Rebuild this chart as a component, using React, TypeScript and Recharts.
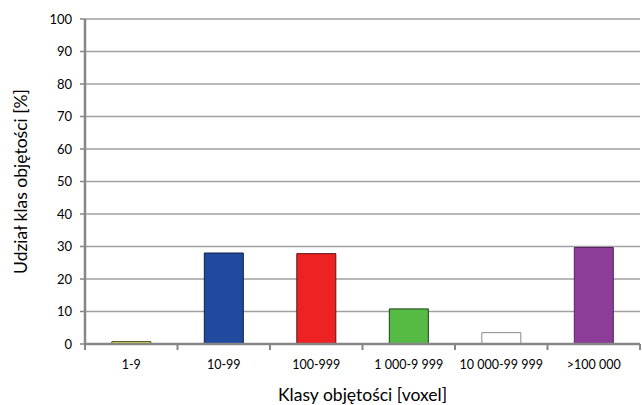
import React from 'react';
import { BarChart, Bar, XAxis, YAxis, CartesianGrid, Cell, Label } from 'recharts';

const categories = ['1-9', '10-99', '100-999', '1 000-9 999', '10 000-99 999', '>100 000'];
const values = [0.7, 28, 27.8, 10.8, 3.5, 29.7];
const fills = ['#FFFF66', '#214A9E', '#EE2222', '#55BB44', '#FFFFFF', '#8B3D97'];
const strokes = ['#333300', '#0E1F44', '#5A1010', '#1E3F16', '#888888', '#5A1F63'];
const yTicks = [0, 10, 20, 30, 40, 50, 60, 70, 80, 90, 100];

const data = categories.map((c, i) => ({ name: c, value: values[i] }));

const FONT = 'Lato, "Open Sans", sans-serif';
const PLOT_LEFT = 85;
const PLOT_RIGHT = 640;
const BAND = (PLOT_RIGHT - PLOT_LEFT) / categories.length;

const XTick = (props: any) => {
  const { x, y, payload, index } = props;
  const half = BAND / 2;
  return (
    <g>
      <line x1={x - half} y1={y - 8} x2={x - half} y2={y - 2} stroke="#868686" strokeWidth={2} />
      {index === categories.length - 1 && (
        <line x1={x + half} y1={y - 8} x2={x + half} y2={y - 2} stroke="#868686" strokeWidth={2} />
      )}
      <text x={x} y={y + 17} textAnchor="middle" fontSize={12.5} fontFamily={FONT} fill="#000">
        {payload.value}
      </text>
    </g>
  );
};

export default function App() {
  return (
    <div style={{ position: 'absolute', left: 0, top: 0, background: '#fff' }}>
      <BarChart
        width={642}
        height={405}
        data={data}
        margin={{ top: 19, right: 642 - PLOT_RIGHT, bottom: 0, left: 0 }}
        barCategoryGap="29%"
      >
        <CartesianGrid vertical={false} stroke="#A0A0A0" strokeWidth={1.5} />
        <XAxis
          dataKey="name"
          height={61}
          axisLine={{ stroke: '#868686', strokeWidth: 2.5 }}
          tickLine={false}
          tick={<XTick />}
          interval={0}
        >
          <Label
            value="Klasy objętości [voxel]"
            position="insideBottom"
            offset={4}
            style={{ fontSize: 17.5, fontFamily: FONT, fill: '#000' }}
          />
        </XAxis>
        <YAxis
          width={PLOT_LEFT}
          domain={[0, 100]}
          ticks={yTicks}
          interval={0}
          axisLine={{ stroke: '#868686', strokeWidth: 2.5 }}
          tickLine={{ stroke: '#868686', strokeWidth: 1.5 }}
          tickSize={5}
          tickMargin={8}
          tick={{ fontSize: 13, fontFamily: FONT, fill: '#000' }}
        >
          <Label
            value="Udział klas objętości [%]"
            angle={-90}
            position="insideLeft"
            offset={21}
            style={{ fontSize: 17.5, fontFamily: FONT, fill: '#000', textAnchor: 'middle' }}
          />
        </YAxis>
        <Bar dataKey="value" isAnimationActive={false} strokeWidth={1}>
          {data.map((d, i) => (
            <Cell key={d.name} fill={fills[i]} stroke={strokes[i]} />
          ))}
        </Bar>
      </BarChart>
    </div>
  );
}
